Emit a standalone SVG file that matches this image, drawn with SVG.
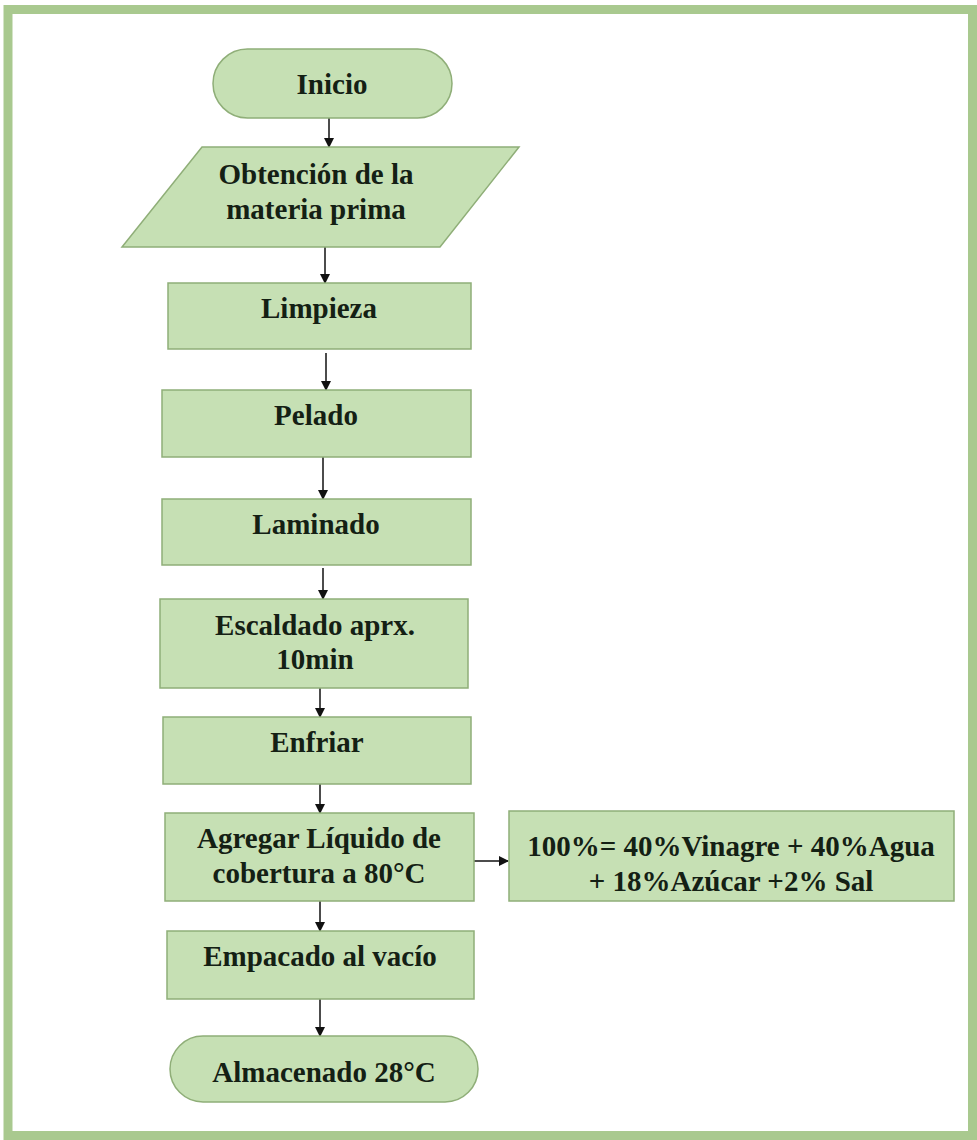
<svg xmlns="http://www.w3.org/2000/svg" width="977" height="1140" viewBox="0 0 977 1140">
<style>
.n{fill:#c6e0b4;stroke:#8fae78;stroke-width:1.5}
.t{font-family:"Liberation Serif","Times New Roman",serif;font-weight:bold;font-size:29px;fill:#142014;text-anchor:middle}
.c{stroke:#111;stroke-width:1.5;fill:none;marker-end:url(#ah)}
</style>
<defs>
<marker id="ah" markerWidth="10" markerHeight="10" refX="9" refY="5" orient="auto" markerUnits="userSpaceOnUse">
<path d="M0,0 L10,5 L0,10 z" fill="#111"/>
</marker>
</defs>
<rect x="0" y="0" width="977" height="1140" fill="#fff"/>
<rect x="8" y="9.5" width="964.5" height="1126" fill="#fff" stroke="#a9c98f" stroke-width="9"/>
<g id="connectors">
<line class="c" x1="329" y1="118" x2="329" y2="147"/>
<line class="c" x1="325" y1="247" x2="325" y2="283"/>
<line class="c" x1="326" y1="353" x2="326" y2="390"/>
<line class="c" x1="323" y1="457" x2="323" y2="499"/>
<line class="c" x1="323" y1="568" x2="323" y2="599"/>
<line class="c" x1="320" y1="688" x2="320" y2="717"/>
<line class="c" x1="320" y1="784" x2="320" y2="813"/>
<line class="c" x1="474" y1="861" x2="508" y2="861"/>
<line class="c" x1="320" y1="901" x2="320" y2="931"/>
<line class="c" x1="320" y1="999" x2="320" y2="1036"/>
</g>
<g id="inicio"><rect class="n" x="213" y="49" width="239" height="69" rx="34.5"/><text class="t" x="332" y="94">Inicio</text></g>
<g id="obtencion"><polygon class="n" points="202,147 519,147 440,247 122,247"/><text class="t" x="316" y="184">Obtención de la</text><text class="t" x="316" y="219">materia prima</text></g>
<g id="limpieza"><rect class="n" x="168" y="283" width="303" height="66"/><text class="t" x="319" y="318">Limpieza</text></g>
<g id="pelado"><rect class="n" x="162" y="390" width="309" height="67"/><text class="t" x="316" y="425">Pelado</text></g>
<g id="laminado"><rect class="n" x="162" y="499" width="309" height="66"/><text class="t" x="316" y="534">Laminado</text></g>
<g id="escaldado"><rect class="n" x="160" y="599" width="308" height="89"/><text class="t" x="315" y="635">Escaldado aprx.</text><text class="t" x="315" y="669">10min</text></g>
<g id="enfriar"><rect class="n" x="163" y="717" width="308" height="67"/><text class="t" x="317" y="752">Enfriar</text></g>
<g id="agregar"><rect class="n" x="165" y="813" width="309" height="88"/><text class="t" x="319" y="848">Agregar Líquido de</text><text class="t" x="319" y="883">cobertura a 80°C</text></g>
<g id="formula"><rect class="n" x="509" y="811" width="445" height="90"/><text class="t" x="731" y="856">100%= 40%Vinagre + 40%Agua</text><text class="t" x="731" y="891">+ 18%Azúcar +2% Sal</text></g>
<g id="empacado"><rect class="n" x="167" y="931" width="307" height="68"/><text class="t" x="320" y="966">Empacado al vacío</text></g>
<g id="almacenado"><rect class="n" x="170" y="1036" width="308" height="66" rx="33"/><text class="t" x="324" y="1082">Almacenado 28°C</text></g>
</svg>
